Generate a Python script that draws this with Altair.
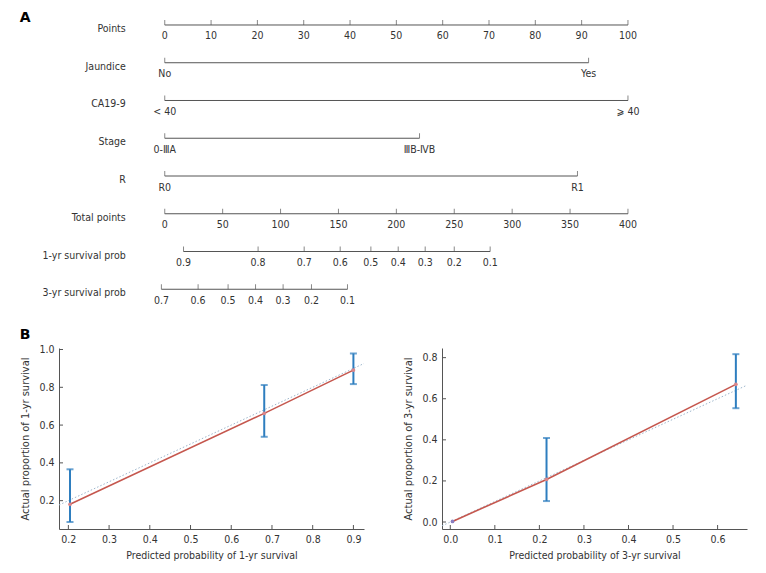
import altair as alt
import pandas as pd

FONT = "DejaVu Sans Condensed, DejaVu Sans, Liberation Sans, sans-serif"
TXT = "#333333"
LINE = "#555555"

# ---------------- Nomogram data (A) ----------------
row_names = ["Points", "Jaundice", "CA19-9", "Stage", "R", "Total points",
             "1-yr survival prob", "3-yr survival prob"]

points_ticks = [0, 10, 20, 30, 40, 50, 60, 70, 80, 90, 100]
jaundice_pos = [0, 91.5]
jaundice_lab = ["No", "Yes"]
ca199_pos = [0, 100]
ca199_lab = ["< 40", "\u2a7e 40"]
stage_pos = [0, 55]
stage_lab = ["0-\u2162A", "\u2162B-\u2163B"]
r_pos = [0, 89.1]
r_lab = ["R0", "R1"]
total_ticks = [0, 50, 100, 150, 200, 250, 300, 350, 400]
surv1_total = [16.2, 80.6, 120.4, 151.5, 178.0, 201.6, 224.9, 250.0, 281.0]
surv1_lab = ["0.9", "0.8", "0.7", "0.6", "0.5", "0.4", "0.3", "0.2", "0.1"]
surv3_total = [-2.9, 28.8, 54.7, 78.4, 102.2, 126.7, 157.8]
surv3_lab = ["0.7", "0.6", "0.5", "0.4", "0.3", "0.2", "0.1"]

TOTAL_MAX = 400
POINTS_MAX = 100
k = POINTS_MAX / TOTAL_MAX

rows_ticks = [
    (points_ticks, [str(v) for v in points_ticks]),
    (jaundice_pos, jaundice_lab),
    (ca199_pos, ca199_lab),
    (stage_pos, stage_lab),
    (r_pos, r_lab),
    ([v * k for v in total_ticks], [str(v) for v in total_ticks]),
    ([v * k for v in surv1_total], surv1_lab),
    ([v * k for v in surv3_total], surv3_lab),
]

seg_rec, tick_rec = [], []
for i, (pos, labs) in enumerate(rows_ticks):
    seg_rec.append({"row": i, "x0": min(pos), "x1": max(pos)})
    for p, l in zip(pos, labs):
        tick_rec.append({"row": i, "x": p, "label": l})
seg_df = pd.DataFrame(seg_rec)
tick_df = pd.DataFrame(tick_rec)
rowlab_df = pd.DataFrame({"row": list(range(len(row_names))), "label": row_names,
                          "x": [-8.42] * len(row_names)})
panel_df = pd.DataFrame({"row": [-0.18, 8.2], "label": ["A", "B"], "x": [-31.3, -31.3]})

NX = alt.Scale(domain=[-22.83, 125.7], nice=False, zero=False)
NY = alt.Scale(domain=[-0.397, 8.344], nice=False, zero=False, reverse=True)

segs = alt.Chart(seg_df).mark_rule(color=LINE, strokeWidth=1).encode(
    x=alt.X("x0:Q", scale=NX, axis=None),
    x2="x1:Q",
    y=alt.Y("row:Q", scale=NY, axis=None),
)
ticks = alt.Chart(tick_df).mark_tick(color=LINE, orient="vertical", size=5,
                                      thickness=1, yOffset=-2.5).encode(
    x=alt.X("x:Q", scale=NX, axis=None),
    y=alt.Y("row:Q", scale=NY, axis=None),
)
tick_txt = alt.Chart(tick_df).mark_text(font=FONT, fontSize=10.5, color=TXT,
                                         align="center", baseline="middle", dy=11.5).encode(
    x=alt.X("x:Q", scale=NX, axis=None),
    y=alt.Y("row:Q", scale=NY, axis=None),
    text="label:N",
)
row_txt = alt.Chart(rowlab_df).mark_text(font=FONT, fontSize=10.5, color=TXT,
                                          align="right", baseline="middle", dy=4).encode(
    x=alt.X("x:Q", scale=NX, axis=None),
    y=alt.Y("row:Q", scale=NY, axis=None),
    text="label:N",
)
panel_txt = alt.Chart(panel_df).mark_text(font="DejaVu Sans", fontSize=14, fontWeight="bold",
                                           color="#000000", align="left", baseline="middle").encode(
    x=alt.X("x:Q", scale=NX, axis=None),
    y=alt.Y("row:Q", scale=NY, axis=None),
    text="label:N",
)
nomogram = alt.layer(segs, ticks, tick_txt, row_txt, panel_txt).properties(width=688, height=330)

# ---------------- Calibration data (B) ----------------
pred_1yr = [0.204, 0.681, 0.900]
obs_1yr = [0.181, 0.662, 0.891]
lo_1yr = [0.087, 0.538, 0.817]
hi_1yr = [0.366, 0.812, 0.979]

pred_3yr = [0.005, 0.216, 0.641]
obs_3yr = [0.003, 0.207, 0.670]
lo_3yr = [None, 0.102, 0.554]
hi_3yr = [None, 0.409, 0.817]
marker_3yr = ["#8a7fc0", "#d9868a", "#d9868a"]
marker_1yr = ["#d9868a", "#d9868a", "#d9868a"]

RED = "#c5574e"
BLUE = "#2e7ebf"
DOT = "#9db6cc"
W, H = 305, 181


def cal_chart(pred, obs, lo, hi, mcol, xdom, ydom, xticks, yticks, xtitle, ytitle):
    df = pd.DataFrame({"pred": pred, "obs": obs, "lo": lo, "hi": hi, "mc": mcol})
    xs = alt.Scale(domain=xdom, nice=False, zero=False)
    ys = alt.Scale(domain=ydom, nice=False, zero=False)
    xax = alt.Axis(values=xticks, format=".1f", title=xtitle, grid=False, tickSize=0,
                   labelPadding=5, titlePadding=6, titleFontSize=10.5)
    yax = alt.Axis(values=yticks, format=".1f", title=ytitle, grid=False, tickSize=0,
                   labelPadding=5, titlePadding=8, titleFontSize=11)
    ideal = alt.Chart(pd.DataFrame({"v": xdom})).mark_line(
        color=DOT, strokeDash=[1.5, 2], strokeWidth=1, clip=True).encode(
        x=alt.X("v:Q", scale=xs, axis=xax),
        y=alt.Y("v:Q", scale=ys, axis=yax),
    )
    base = alt.Chart(df)
    redline = base.mark_line(color=RED, strokeWidth=1.6).encode(x="pred:Q", y="obs:Q")
    ci = base.transform_filter("isValid(datum.lo)")
    bars = ci.mark_rule(color=BLUE, strokeWidth=2).encode(x="pred:Q", y="lo:Q", y2="hi:Q")
    cap_lo = ci.mark_tick(color=BLUE, orient="horizontal", size=7, thickness=2).encode(
        x="pred:Q", y="lo:Q")
    cap_hi = ci.mark_tick(color=BLUE, orient="horizontal", size=7, thickness=2).encode(
        x="pred:Q", y="hi:Q")
    pts = base.mark_point(filled=True, size=14, opacity=1).encode(
        x="pred:Q", y="obs:Q", color=alt.Color("mc:N", scale=None))
    xt = alt.Chart(pd.DataFrame({"v": xticks})).mark_rule(color=LINE).encode(
        x="v:Q", y=alt.value(H), y2=alt.value(H - 4))
    yt = alt.Chart(pd.DataFrame({"v": yticks})).mark_rule(color=LINE).encode(
        y="v:Q", x=alt.value(0), x2=alt.value(4))
    return alt.layer(ideal, redline, bars, cap_lo, cap_hi, pts, xt, yt).properties(
        width=W, height=H)


cal1 = cal_chart(pred_1yr, obs_1yr, lo_1yr, hi_1yr, marker_1yr,
                 [0.177, 0.926], [0.05, 1.008],
                 [0.2, 0.3, 0.4, 0.5, 0.6, 0.7, 0.8, 0.9], [0.2, 0.4, 0.6, 0.8, 1.0],
                 "Predicted probability of 1-yr survival", "Actual proportion of 1-yr survival")
cal3 = cal_chart(pred_3yr, obs_3yr, lo_3yr, hi_3yr, marker_3yr,
                 [-0.0186, 0.666], [-0.034, 0.847],
                 [0.0, 0.1, 0.2, 0.3, 0.4, 0.5, 0.6], [0.0, 0.2, 0.4, 0.6, 0.8],
                 "Predicted probability of 3-yr survival", "Actual proportion of 3-yr survival")

bottom = alt.hconcat(cal1, cal3, spacing=78, bounds="flush")
chart = alt.vconcat(nomogram, bottom, spacing=8, bounds="flush").properties(
    padding={"left": 11, "top": 2, "right": 5, "bottom": 2}
).configure(font=FONT).configure_view(stroke=None).configure_axis(
    labelFont=FONT, titleFont=FONT, labelFontSize=10.5,
    labelColor=TXT, titleColor=TXT, titleFontWeight="normal",
    domainColor=LINE, domainWidth=1,
)

chart.save("out.html", embed_options={"renderer": "svg", "actions": False})
